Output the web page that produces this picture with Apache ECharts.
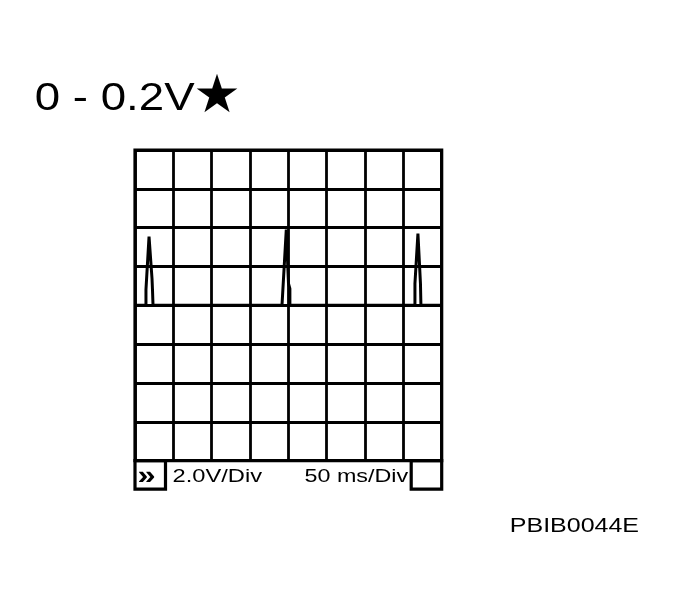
<!doctype html>
<html lang="">
<head>
    <meta charset="utf-8">
    <title>Oscilloscope 0 - 0.2V</title>
    <script src="https://cdn.jsdelivr.net/npm/echarts@6/dist/echarts.min.js"></script>
    <style>
        html, body { margin: 0; padding: 0; background: #fff; }
        #main { width: 679px; height: 611px; }
    </style>
</head>
<body>
    <div id="main"></div>

    <script type="text/javascript">
    // trace: time in ms, level in volts (2.0 V/div, 50 ms/div)
    var timeMs = [0, 14.3, 14.3, 18.3, 20.2, 22.2, 22.8, 23.5,
                  191.7, 197.3, 199.2, 200.2, 202.0, 202.0,
                  365.1, 365.1, 369.0, 371.0, 372.3, 372.9, 400];
    var volts  = [0, 0, 0.81, 3.54, 3.54, 1.37, 0.81, 0,
                  0, 3.9, 3.9, 1.12, 0.86, 0,
                  0, 1.12, 3.69, 3.69, 1.12, 0, 0];

    var xTicks = { min: 0, max: 400, step: 50 };     // 8 divisions
    var yTicks = { min: -8, max: 8, step: 2 };       // 8 divisions

    var titleText = '0 - 0.2V';
    var starText = '\u2605';
    var voltsPerDiv = '2.0V/Div';
    var timePerDiv = '50 ms/Div';
    var runMark = '\u00bb';
    var figureCode = 'PBIB0044E';

    var trace = timeMs.map(function (t, i) { return [t, volts[i]]; });

    var myChart = echarts.init(document.getElementById('main'));

    var font = '"Liberation Sans", Arial, Helvetica, sans-serif';

    var option = {
        backgroundColor: '#fff',
        animation: false,
        grid: {
            left: 135, top: 150, width: 306.7, height: 310.7,
            show: true, borderColor: '#000', borderWidth: 3.2, backgroundColor: 'transparent'
        },
        xAxis: {
            type: 'value', min: xTicks.min, max: xTicks.max, interval: xTicks.step,
            axisLine: { show: false }, axisTick: { show: false }, axisLabel: { show: false },
            splitLine: { show: true, lineStyle: { color: '#000', width: 2.8, type: 'solid' } }
        },
        yAxis: {
            type: 'value', min: yTicks.min, max: yTicks.max, interval: yTicks.step,
            axisLine: { show: false }, axisTick: { show: false }, axisLabel: { show: false },
            splitLine: { show: true, lineStyle: { color: '#000', width: 2.8, type: 'solid' } }
        },
        series: [{
            type: 'line',
            data: trace,
            showSymbol: false,
            symbol: 'none',
            lineStyle: { color: '#000', width: 3 },
            z: 5
        }],
        graphic: [
            {
                type: 'text', x: 34.8, y: 99, scaleX: 1.17,
                style: { text: titleText, fontSize: 39, fontFamily: font, fill: '#000',
                         textAlign: 'left', textVerticalAlign: 'middle', align: 'left', verticalAlign: 'middle' }
            },
            {
                type: 'text', x: 217, y: 98,
                style: { text: starText, fontSize: 53, fontFamily: '"DejaVu Sans", sans-serif', fill: '#000',
                         textAlign: 'center', textVerticalAlign: 'middle', align: 'center', verticalAlign: 'middle' }
            },
            // status bar under the screen
            {
                type: 'rect', shape: { x: 135, y: 460.7, width: 30.5, height: 28.5 },
                style: { fill: 'none', stroke: '#000', lineWidth: 3.2 }
            },
            {
                type: 'rect', shape: { x: 411.2, y: 460.7, width: 30.5, height: 28.5 },
                style: { fill: 'none', stroke: '#000', lineWidth: 3.2 }
            },
            {
                type: 'text', x: 146.5, y: 477, scaleX: 1.25,
                style: { text: runMark, fontSize: 26, fontWeight: 'bold', fontFamily: font, fill: '#000',
                         textAlign: 'center', textVerticalAlign: 'middle', align: 'center', verticalAlign: 'middle' }
            },
            {
                type: 'text', x: 172.5, y: 476.7, scaleX: 1.28,
                style: { text: voltsPerDiv, fontSize: 18.5, fontFamily: font, fill: '#000',
                         textAlign: 'left', textVerticalAlign: 'middle', align: 'left', verticalAlign: 'middle' }
            },
            {
                type: 'text', x: 304.5, y: 476.7, scaleX: 1.26,
                style: { text: timePerDiv, fontSize: 18.5, fontFamily: font, fill: '#000',
                         textAlign: 'left', textVerticalAlign: 'middle', align: 'left', verticalAlign: 'middle' }
            },
            {
                type: 'text', x: 509.8, y: 525.8, scaleX: 1.19,
                style: { text: figureCode, fontSize: 21, fontFamily: font, fill: '#000',
                         textAlign: 'left', textVerticalAlign: 'middle', align: 'left', verticalAlign: 'middle' }
            }
        ]
    };

    myChart.setOption(option);
    </script>
</body>
</html>
